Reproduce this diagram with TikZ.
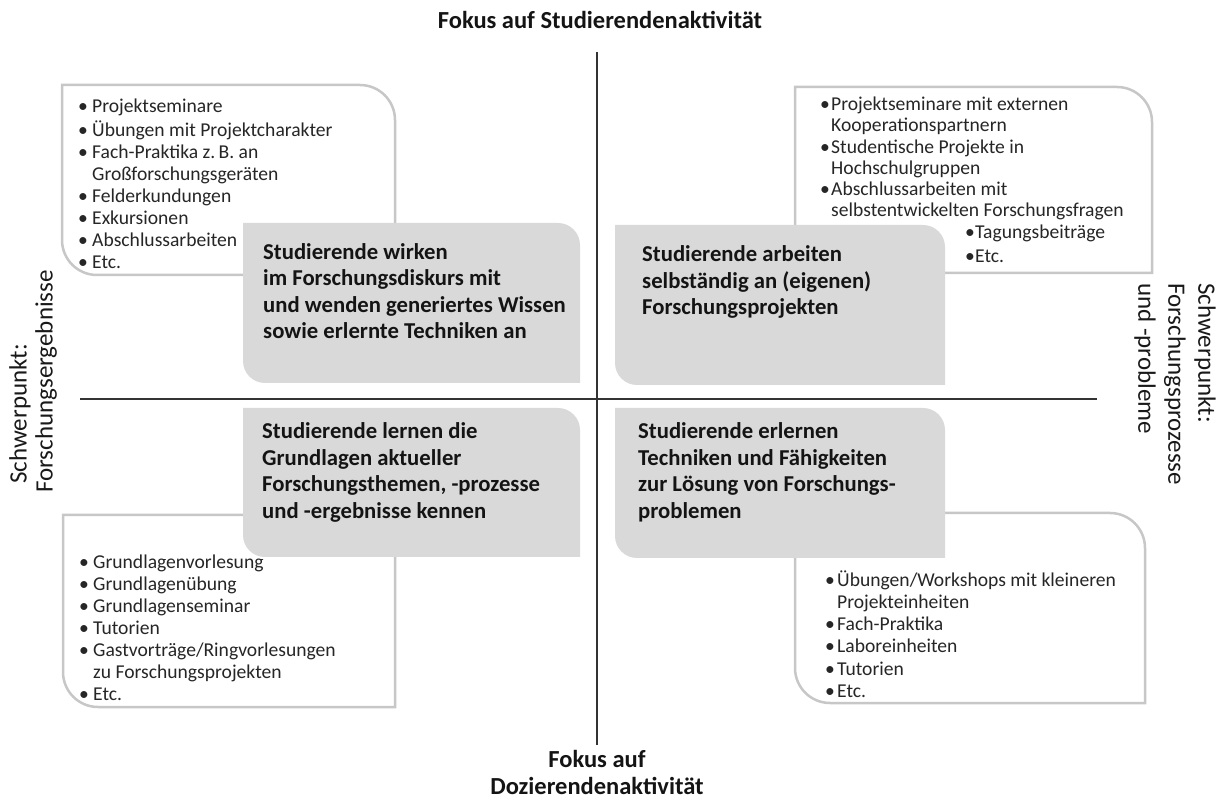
\documentclass[tikz,border=0pt]{standalone}
\usepackage{fontspec}
\setmainfont{Carlito}
\newcommand\qbox[6]{\path[#6] (#1,#2) -- ({#3-#5},#2) arc[start angle=90,end angle=0,radius=#5pt] -- (#3,#4) -- ({#1+#5},#4) arc[start angle=270,end angle=180,radius=#5pt] -- cycle;}
\newcommand\bl[1]{\makebox[#1][l]{•}}
\newcommand\cn[1]{\makebox[#1]{}}
\tikzset{
  wbox/.style={draw=black!22, line width=2.5pt, fill=white},
  gbox/.style={fill=black!15},
  axisline/.style={draw=black!80, line width=1.3pt},
  lst/.style={anchor=north west, inner sep=0pt, align=left, text=black!85},
  gtxt/.style={anchor=north west, inner sep=0pt, align=left, text=black!92, font=\bfseries\fontsize{22.7}{26.5}\selectfont},
  ttl/.style={inner sep=0pt, align=center, text=black!92, font=\bfseries\fontsize{24.5}{27}\selectfont},
  side/.style={inner sep=0pt, anchor=west, text=black!90, font=\fontsize{25}{28}\selectfont}
}
\begin{document}
\begin{tikzpicture}[x=1pt,y=1pt]
\useasboundingbox (0,0) rectangle (1223,801);
% white list boxes
\qbox{62}{716}{395}{526}{35}{wbox}
\qbox{795}{714}{1152}{528}{35}{wbox}
\qbox{63}{286}{395}{94}{35}{wbox}
\qbox{795}{288}{1145}{98}{35}{wbox}
% grey boxes
\qbox{243}{578}{580}{418}{22}{gbox}
\qbox{615}{576}{945}{416}{22}{gbox}
\qbox{243}{393}{580}{244}{22}{gbox}
\qbox{615}{393}{945}{243}{22}{gbox}
% axes
\coordinate (vt) at (597,749);
\coordinate (vb) at (597,56);
\coordinate (hl) at (80,402);
\coordinate (hr) at (1097,402);
\draw[axisline] (vt) -- (vb);
\draw[axisline] (hl) -- (hr);
% titles
\node[ttl] (top) at (600,781) {Fokus auf Studierendenaktivität};
\node[ttl] (bot) at (597,29) {Fokus auf\\Dozierendenaktivität};
% side labels
\node[side, rotate=90] (l1) at (20,317) {Schwerpunkt:};
\node[side, rotate=90] (l2) at (46,308) {Forschungsergebnisse};
\node[side, rotate=-90] (r1) at (1205,518) {Schwerpunkt:};
\node[side, rotate=-90] (r2) at (1175,518) {Forschungsprozesse};
\node[side, rotate=-90] (r3) at (1145,518) {und -probleme};
% grey box texts
\node[gtxt] (g1) at (263,560.3) {\strut Studierende wirken\\im Forschungsdiskurs mit\\und wenden generiertes Wissen\\sowie erlernte Techniken an};
\node[gtxt] (g2) at (642,558) {\strut Studierende arbeiten\\selbständig an (eigenen)\\Forschungsprojekten};
\node[gtxt] (g3) at (262,381) {\strut Studierende lernen die\\Grundlagen aktueller\\Forschungsthemen, -prozesse\\und -ergebnisse kennen};
\node[gtxt] (g4) at (638,381) {\strut Studierende erlernen\\Techniken und Fähigkeiten\\zur Lösung von Forschungs-\\problemen};
% lists
\node[lst, font=\fontsize{19.6}{22.1}\selectfont] (ltl) at (78,703.7) {\strut\bl{14pt}Projektseminare\\
\bl{14pt}Übungen mit Projektcharakter\\
\bl{14pt}Fach-Praktika z.\,B. an\\
\cn{14pt}Großforschungsgeräten\\
\bl{14pt}Felderkundungen\\
\bl{14pt}Exkursionen\\
\bl{14pt}Abschlussarbeiten\\
\bl{14pt}Etc.};
\node[lst, font=\fontsize{19.6}{21.3}\selectfont] (ltr) at (820,705.7) {\strut\bl{11pt}Projektseminare mit externen\\
\cn{11pt}Kooperationspartnern\\
\bl{11pt}Studentische Projekte in\\
\cn{11pt}Hochschulgruppen\\
\bl{11pt}Abschlussarbeiten mit\\
\cn{11pt}selbstentwickelten Forschungsfragen};
\node[lst, font=\fontsize{19.6}{24}\selectfont] (ltr2) at (965,579.1) {\strut\bl{10pt}Tagungsbeiträge\\
\bl{10pt}Etc.};
\node[lst, font=\fontsize{19.6}{22}\selectfont] (lbl) at (79,247.7) {\strut\bl{14pt}Grundlagenvorlesung\\
\bl{14pt}Grundlagenübung\\
\bl{14pt}Grundlagenseminar\\
\bl{14pt}Tutorien\\
\bl{14pt}Gastvorträge/Ringvorlesungen\\
\cn{14pt}zu Forschungsprojekten\\
\bl{14pt}Etc.};
\node[lst, font=\fontsize{19.6}{22.2}\selectfont] (lbr) at (825,230.7) {\strut\bl{12pt}Übungen/Workshops mit kleineren\\
\cn{12pt}Projekteinheiten\\
\bl{12pt}Fach-Praktika\\
\bl{12pt}Laboreinheiten\\
\bl{12pt}Tutorien\\
\bl{12pt}Etc.};
\end{tikzpicture}
\end{document}
